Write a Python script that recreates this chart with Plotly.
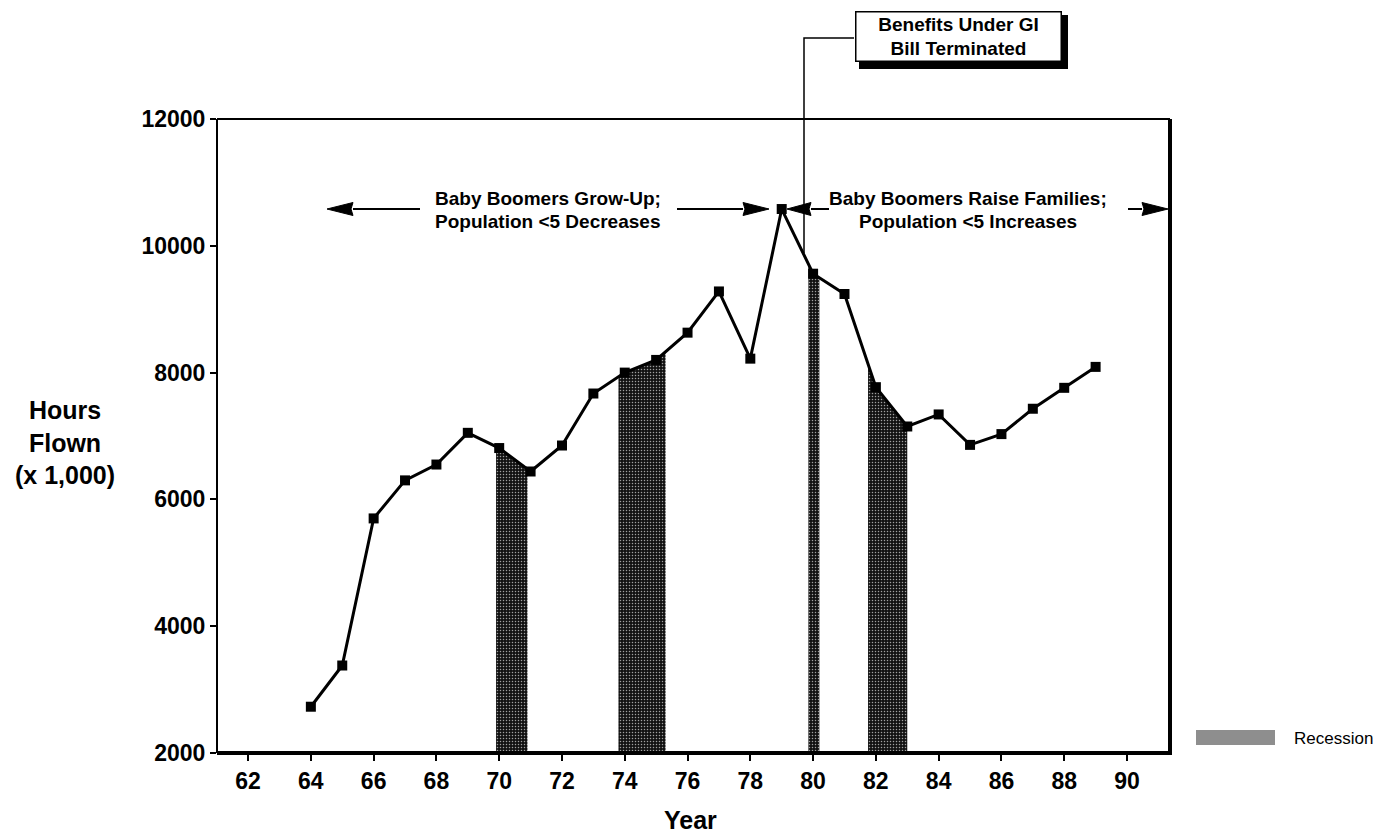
import numpy as np
import plotly.graph_objects as go

# Dados
anos = list(range(64, 90))
horas_voadas = [2730, 3380, 5700, 6300, 6550, 7050, 6810, 6440, 6850, 7670,
                8000, 8200, 8630, 9280, 8220, 10580, 9560, 9240, 7770, 7150,
                7340, 6860, 7030, 7430, 7760, 8090]

# Recessoes (inicio, fim) em anos
recessao_inicio = [69.9, 73.8, 79.85, 81.75]
recessao_fim = [70.9, 75.3, 80.2, 83.0]

x_ticks = list(range(62, 91, 2))
y_ticks = [2000, 4000, 6000, 8000, 10000, 12000]

FONTE = "Liberation Sans, Arial, Helvetica, sans-serif"

# area do grafico em pixels da tela (janela 1396x837)
# a pagina tem margem de 8px no body, por isso o deslocamento
OFF = 8
W, H = 1396 - OFF, 837 - OFF
ESQ, DIR, TOPO, BASE = 217, 1170, 119, 753


def px_x(p):
    return (p - ESQ) / (DIR - ESQ)


def px_y(p):
    return (BASE - p) / (BASE - TOPO)


def seta(cauda, ponta, y, comp=26, meia=6.5):
    """Seta horizontal (linha + cabeca triangular) em pixels da tela"""
    lado = 1 if ponta > cauda else -1
    base = ponta - lado * comp
    linha = dict(type='line', xref='paper', yref='paper',
                 x0=px_x(cauda), x1=px_x(base), y0=px_y(y), y1=px_y(y),
                 line=dict(color='black', width=2))
    cabeca = dict(type='path', xref='paper', yref='paper',
                  path=(f"M {px_x(ponta)},{px_y(y)} L {px_x(base)},{px_y(y - meia)} "
                        f"L {px_x(base + lado * 2)},{px_y(y)} L {px_x(base)},{px_y(y + meia)} Z"),
                  fillcolor='black', line=dict(color='black', width=1))
    return [linha, cabeca]


fig = go.Figure()

# faixas de recessao, preenchidas ate a linha
for ini, fim in zip(recessao_inicio, recessao_fim):
    xs = [ini] + [a for a in anos if ini < a < fim] + [fim]
    topo = list(np.interp(xs, anos, horas_voadas))
    fig.add_trace(go.Scatter(
        x=[ini] + xs + [fim], y=[2000] + topo + [2000],
        mode='lines', line=dict(width=0), fill='toself',
        fillcolor='#141414',
        fillpattern=dict(shape='.', fgcolor='#a0a0a0', bgcolor='#121212',
                         size=3, solidity=0.2, fillmode='replace'),
        hoverinfo='skip', showlegend=False))

# serie principal
fig.add_trace(go.Scatter(
    x=anos, y=horas_voadas, mode='lines+markers',
    line=dict(color='black', width=3),
    marker=dict(symbol='square', size=10, color='black'),
    showlegend=False))

shapes = []
# moldura: topo e esquerda finos, direita e base grossos
shapes.append(dict(type='line', xref='paper', yref='paper', x0=0, x1=1, y0=1, y1=1,
                   line=dict(color='black', width=2)))
shapes.append(dict(type='line', xref='paper', yref='paper', x0=0, x1=0, y0=0, y1=1,
                   line=dict(color='black', width=2)))
shapes.append(dict(type='line', xref='paper', yref='paper', x0=1, x1=1, y0=-0.003, y1=1,
                   line=dict(color='black', width=4)))
shapes.append(dict(type='line', xref='paper', yref='paper', x0=0, x1=1.002, y0=0, y1=0,
                   line=dict(color='black', width=4)))

# conector da caixa "GI Bill"
shapes.append(dict(type='path', xref='paper', yref='paper',
                   path=f"M {px_x(854)},{px_y(38)} L {px_x(804)},{px_y(38)} L {px_x(804)},{px_y(253)}",
                   line=dict(color='black', width=1.5)))
# sombra da caixa
shapes.append(dict(type='rect', xref='paper', yref='paper',
                   x0=px_x(859), x1=px_x(1068), y0=px_y(69), y1=px_y(15),
                   fillcolor='black', line=dict(width=0)))

# setas dos periodos
shapes += seta(420, 327, 209)
shapes += seta(677, 769, 209)
shapes += seta(829, 787, 209, comp=24)
shapes += seta(1128, 1168, 209)

# amostra da legenda "Recession"
shapes.append(dict(type='rect', xref='paper', yref='paper',
                   x0=px_x(1196), x1=px_x(1275), y0=px_y(745), y1=px_y(730),
                   fillcolor='#8e8e8e', line=dict(width=0)))

anotacoes = []
fonte_txt = dict(family=FONTE, size=19, color='black', weight='bold')

# texto "Baby Boomers Grow-Up"
anotacoes.append(dict(x=71.55, y=10740, xref='x', yref='y', showarrow=False,
                      text="Baby Boomers Grow-Up;", font=fonte_txt))
anotacoes.append(dict(x=71.55, y=10380, xref='x', yref='y', showarrow=False,
                      text="Population <5 Decreases", font=fonte_txt))
# texto "Baby Boomers Raise Families"
anotacoes.append(dict(x=84.95, y=10740, xref='x', yref='y', showarrow=False,
                      text="Baby Boomers Raise Families;", font=fonte_txt))
anotacoes.append(dict(x=84.95, y=10380, xref='x', yref='y', showarrow=False,
                      text="Population <5 Increases", font=fonte_txt))

# caixa GI Bill
anotacoes.append(dict(x=px_x(958), y=px_y(37), xref='paper', yref='paper',
                      xanchor='center', yanchor='middle',
                      showarrow=False, text="Benefits Under GI<br>Bill Terminated",
                      font=fonte_txt, bgcolor='white', bordercolor='black',
                      borderwidth=1.5, width=204, height=48, borderpad=0))

# titulo do eixo y
anotacoes.append(dict(x=px_x(65), y=px_y(443), xref='paper', yref='paper',
                      xanchor='center', yanchor='middle',
                      showarrow=False, text="Hours<br>Flown<br>(x 1,000)",
                      font=dict(family=FONTE, size=25, color='black', weight='bold')))
# titulo do eixo x
anotacoes.append(dict(x=px_x(690), y=px_y(820), xref='paper', yref='paper',
                      xanchor='center', yanchor='middle',
                      showarrow=False, text="Year",
                      font=dict(family=FONTE, size=25, color='black', weight='bold')))
# legenda
anotacoes.append(dict(x=px_x(1292), y=px_y(738), xref='paper', yref='paper',
                      xanchor='left', yanchor='middle', showarrow=False, text="Recession",
                      font=dict(family=FONTE, size=17, color='black')))

fig.update_layout(
    width=W, height=H,
    margin=dict(l=ESQ - OFF, r=W - (DIR - OFF), t=TOPO - OFF, b=H - (BASE - OFF), pad=0),
    plot_bgcolor='white', paper_bgcolor='white',
    shapes=shapes, annotations=anotacoes,
    xaxis=dict(range=[61.01, 91.37], tickvals=x_ticks,
               ticktext=[str(t) for t in x_ticks],
               showgrid=False, zeroline=False, showline=False,
               ticks='outside', ticklen=7, tickwidth=2, tickcolor='black',
               tickfont=dict(family=FONTE, size=23, color='black', weight='bold')),
    yaxis=dict(range=[2000, 12000], tickvals=y_ticks,
               ticktext=[str(t) for t in y_ticks],
               showgrid=False, zeroline=False, showline=False,
               ticks='outside', ticklen=6, tickwidth=2, tickcolor='black',
               tickfont=dict(family=FONTE, size=23, color='black', weight='bold')),
)

fig.write_html("out.html")
